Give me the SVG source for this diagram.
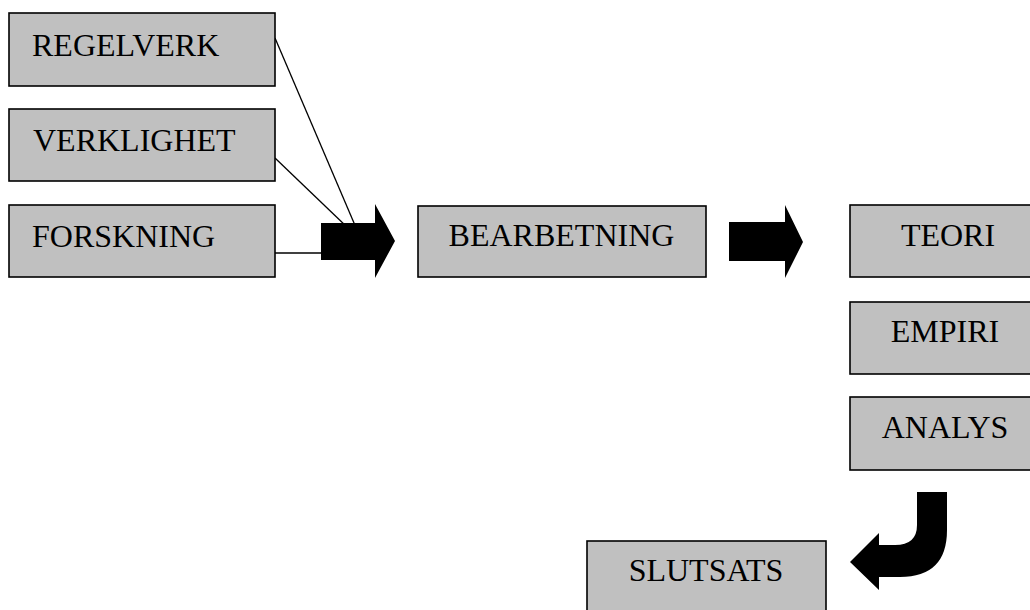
<svg xmlns="http://www.w3.org/2000/svg" width="1030" height="610" viewBox="0 0 1030 610">
<style>
.box{fill:#c0c0c0;stroke:#000;stroke-width:1.6}
.t{font-family:"Liberation Serif","Times New Roman",serif;font-size:32px;fill:#000}
.m{text-anchor:middle}
.ln{stroke:#000;stroke-width:1.3;fill:none}
.ar{fill:#000;stroke:none}
</style>
<rect width="1030" height="610" fill="#fff"/>
<g id="connectors">
<line class="ln" x1="275" y1="38" x2="357" y2="230"/>
<line class="ln" x1="275" y1="158" x2="348" y2="228"/>
<line class="ln" x1="275" y1="253" x2="325" y2="253"/>
<path class="ar" d="M321,223 L375,223 L375,204 L395,241 L375,278 L375,260 L321,260 Z"/>
<path class="ar" d="M729,222 L785,222 L785,205 L803,242 L785,278 L785,261 L729,261 Z"/>
<path class="ar" d="M917,492 L947,492 L947,530 Q947,577 900,577 L879,577 L879,590 L850,562 L879,533 L879,545 L895,545 Q917,545 917,525 Z"/>
</g>
<g id="regelverk"><rect class="box" x="9" y="13" width="266" height="73"/><text class="t" x="32" y="56">REGELVERK</text></g>
<g id="verklighet"><rect class="box" x="9" y="109" width="266" height="72"/><text class="t" x="33" y="151">VERKLIGHET</text></g>
<g id="forskning"><rect class="box" x="9" y="205" width="266" height="72"/><text class="t" x="32" y="247">FORSKNING</text></g>
<g id="bearbetning"><rect class="box" x="418" y="206" width="288" height="71"/><text class="t m" x="561.5" y="246">BEARBETNING</text></g>
<g id="teori"><rect class="box" x="850" y="205" width="200" height="72"/><text class="t m" x="948" y="246">TEORI</text></g>
<g id="empiri"><rect class="box" x="850" y="302" width="200" height="72"/><text class="t m" x="945" y="342">EMPIRI</text></g>
<g id="analys"><rect class="box" x="850" y="397" width="200" height="73"/><text class="t m" x="945" y="438">ANALYS</text></g>
<g id="slutsats"><rect class="box" x="587" y="541" width="239" height="80"/><text class="t m" x="706" y="581">SLUTSATS</text></g>
</svg>
